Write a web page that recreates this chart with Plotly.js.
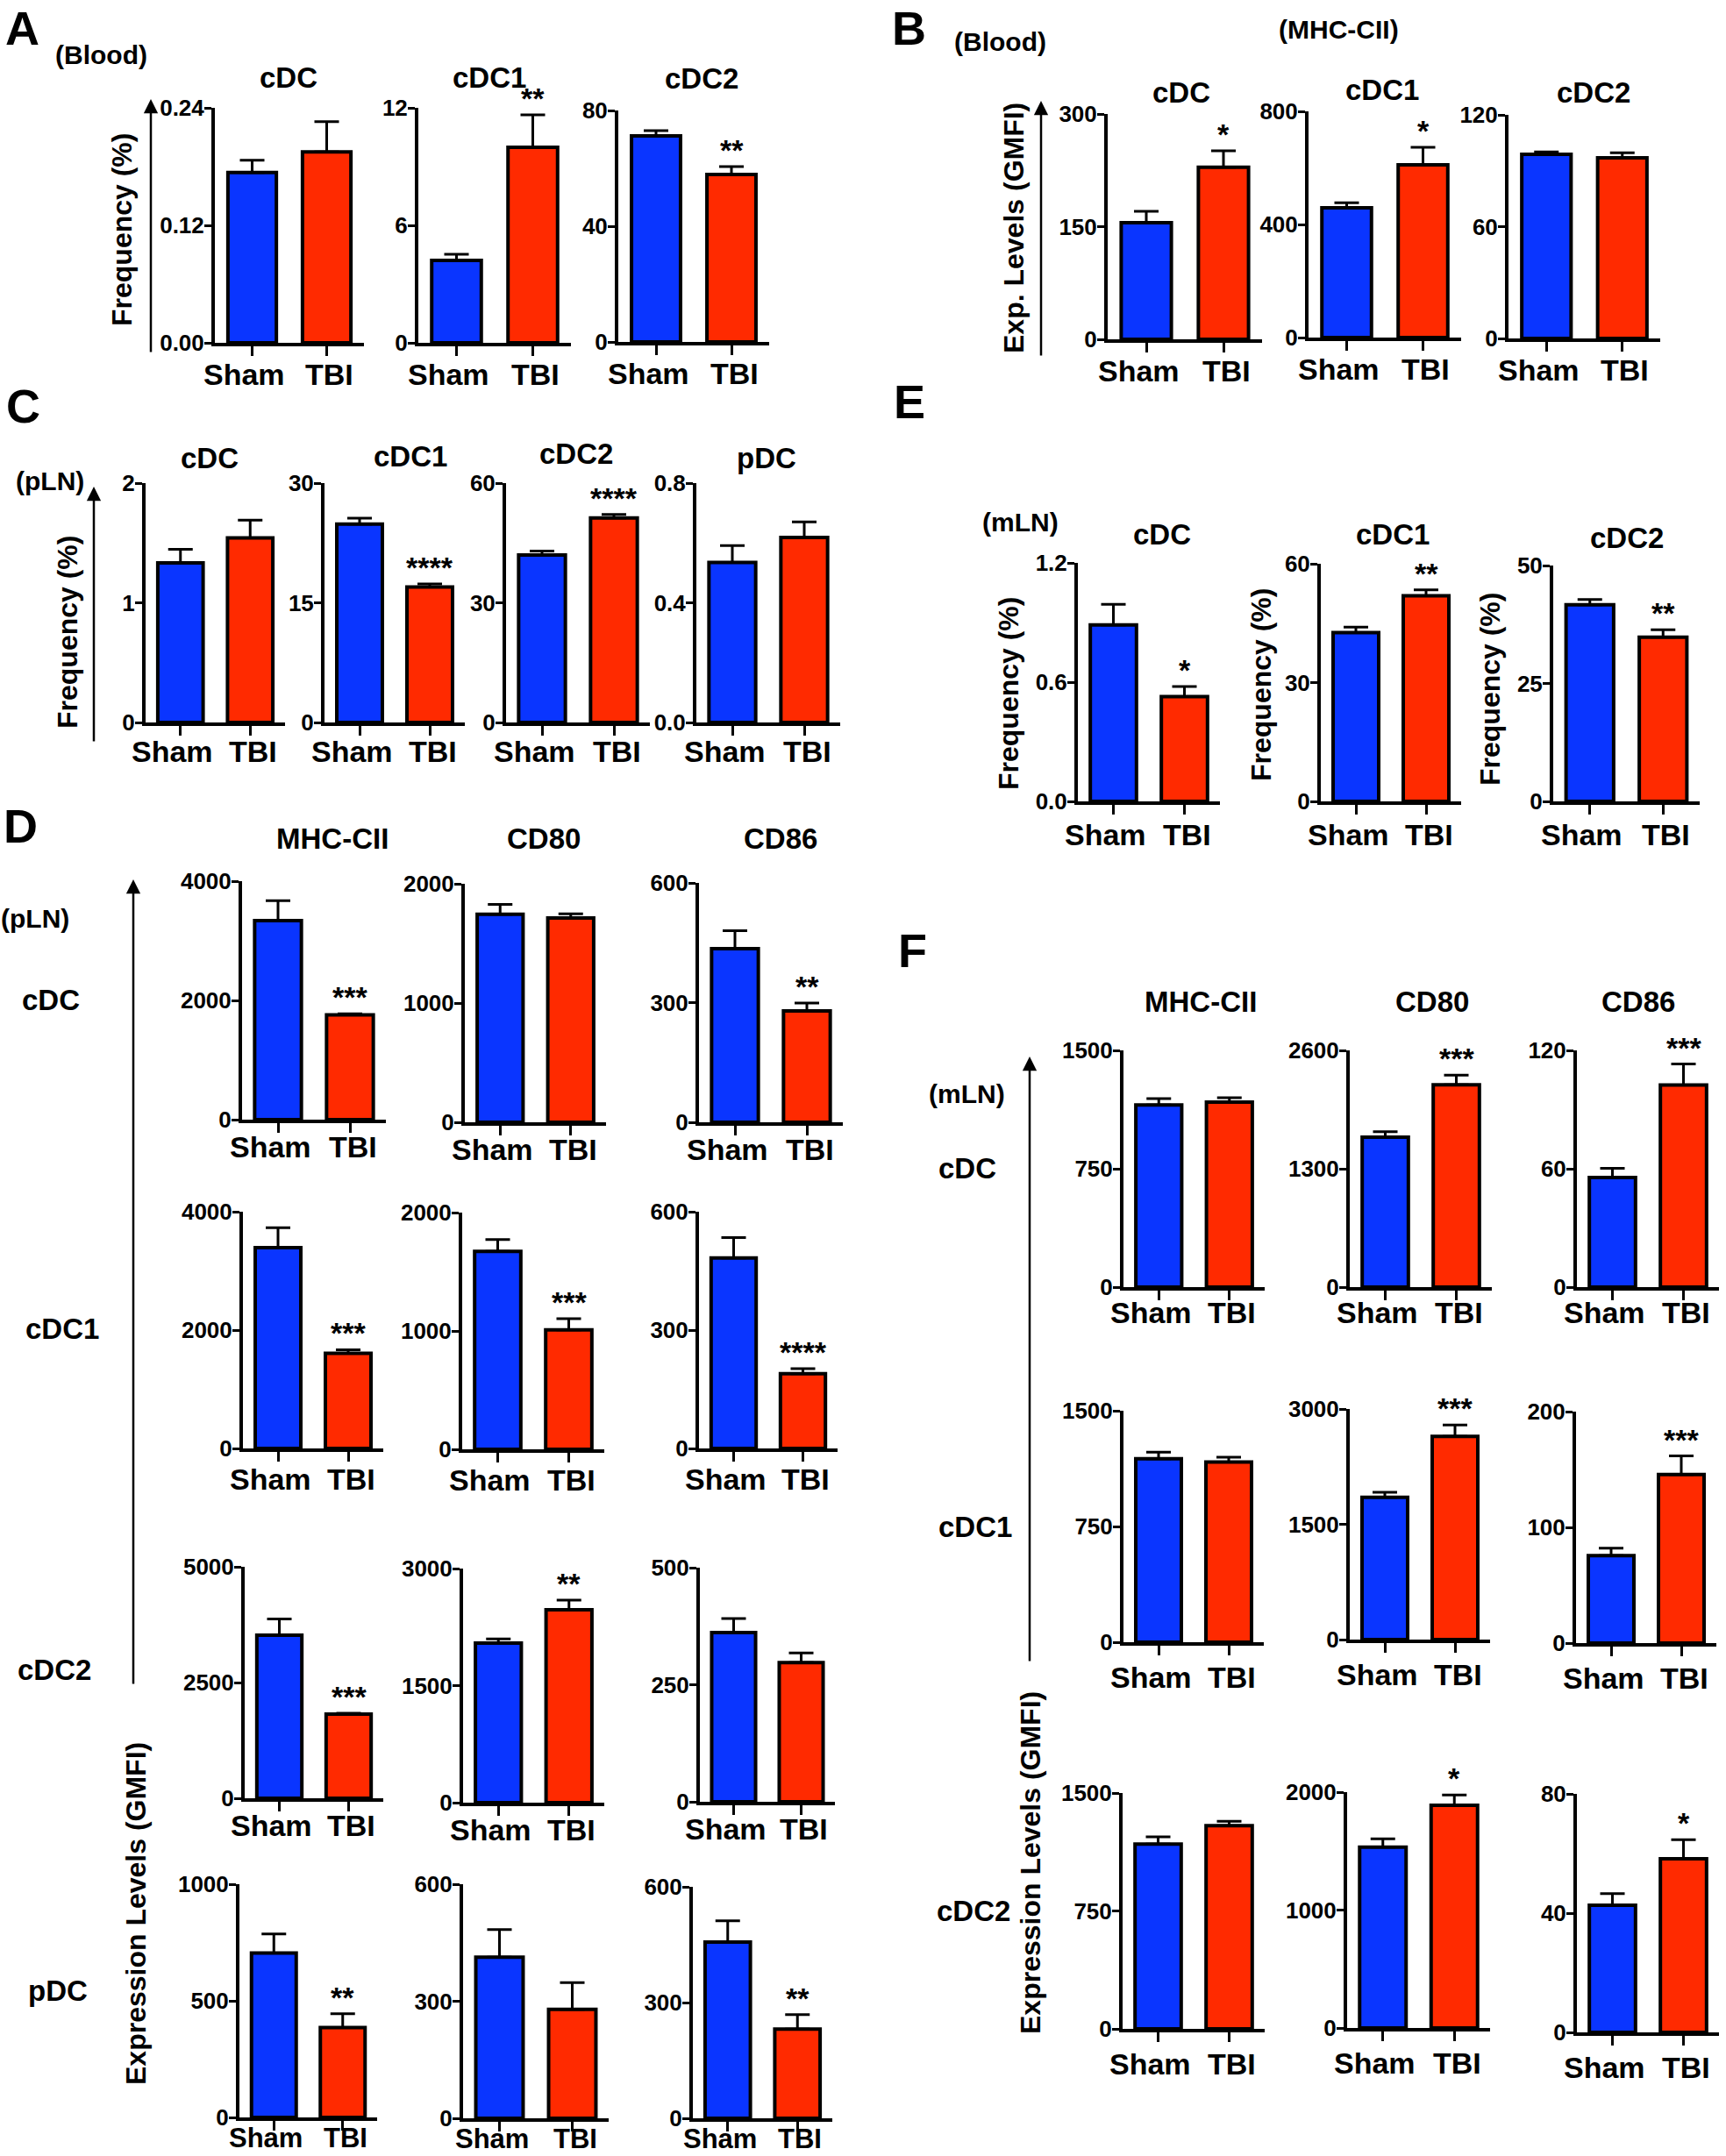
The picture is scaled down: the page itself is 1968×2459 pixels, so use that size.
<!DOCTYPE html>
<html><head><meta charset="utf-8">
<script src="https://cdn.plot.ly/plotly-3.0.1.min.js"></script>
<style>html,body{margin:0;padding:0;background:#fff}</style>
</head><body><div id="chart" style="width:1968px;height:2459px"></div>
<script>
// ---------------- DATA ----------------
const groups = ["Sham", "TBI"];

// Panel A – Blood, frequency (%)
const A_cells = ["cDC", "cDC1", "cDC2"];
const A_mean = [[0.174, 0.195], [4.21, 9.98], [71.2, 57.9]];
const A_sem = [[0.0125, 0.031], [0.31, 1.66], [1.8, 2.7]];
const A_ticks = [["0.00", "0.12", "0.24"], ["0", "6", "12"], ["0", "40", "80"]];
const A_stars = ["", "**", "**"];

// Panel B – Blood, MHC-CII expression (GMFI)
const B_cells = ["cDC", "cDC1", "cDC2"];
const B_mean = [[155.3, 229], [459, 611], [98.8, 96.9]];
const B_sem = [[15, 22], [18, 62], [1.3, 2.8]];
const B_ticks = [["0", "150", "300"], ["0", "400", "800"], ["0", "60", "120"]];
const B_stars = ["*", "*", ""];

// Panel C – pLN, frequency (%)
const C_cells = ["cDC", "cDC1", "cDC2", "pDC"];
const C_mean = [[1.333, 1.542], [24.87, 16.98], [42.0, 51.26], [0.535, 0.618]];
const C_sem = [[0.113, 0.148], [0.73, 0.37], [0.95, 0.88], [0.056, 0.052]];
const C_ticks = [["0", "1", "2"], ["0", "15", "30"], ["0", "30", "60"], ["0.0", "0.4", "0.8"]];
const C_stars = ["", "****", "****", ""];

// Panel E – mLN, frequency (%)
const E_cells = ["cDC", "cDC1", "cDC2"];
const E_mean = [[0.888, 0.527], [42.6, 51.9], [41.7, 34.8]];
const E_sem = [[0.104, 0.051], [1.4, 1.5], [1.1, 1.6]];
const E_ticks = [["0.0", "0.6", "1.2"], ["0", "30", "60"], ["0", "25", "50"]];
const E_stars = ["*", "**", "**"];

// Panel D – pLN expression levels (GMFI); rows = cell types, cols = markers
const D_markers = ["MHC-CII", "CD80", "CD86"];
const D_rows = ["cDC", "cDC1", "cDC2", "pDC"];
const D_mean = [
  [[3337, 1757], [1745, 1714], [435, 279]],
  [[3391, 1609], [1673, 1010], [482.7, 189.4]],
  [[3525, 1816], [2045, 2472], [361.6, 297.4]],
  [[705, 385], [413, 279], [457, 231]]
];
const D_sem = [
  [[334, 20], [83, 34], [45, 20]],
  [[337, 59], [99, 94], [52, 13]],
  [[348, 19], [52, 124], [30, 20.6]],
  [[82, 60], [70.6, 69], [55, 38]]
];
const D_ticks = [
  [["0", "2000", "4000"], ["0", "1000", "2000"], ["0", "300", "600"]],
  [["0", "2000", "4000"], ["0", "1000", "2000"], ["0", "300", "600"]],
  [["0", "2500", "5000"], ["0", "1500", "3000"], ["0", "250", "500"]],
  [["0", "500", "1000"], ["0", "300", "600"], ["0", "300", "600"]]
];
const D_stars = [["***", "", "**"], ["***", "***", "****"], ["***", "**", ""], ["**", "", "**"]];

// Panel F – mLN expression levels (GMFI)
const F_markers = ["MHC-CII", "CD80", "CD86"];
const F_rows = ["cDC", "cDC1", "cDC2"];
const F_mean = [
  [[1154, 1172], [1647, 2221], [55.6, 102.4]],
  [[1189, 1167], [1852, 2643], [75.5, 145.7]],
  [[1175, 1292], [1534, 1888], [42.65, 58.2]]
];
const F_sem = [
  [[40, 28], [61, 106], [4.6, 10.7]],
  [[42, 32], [65, 148], [6.5, 16]],
  [[46, 28], [70, 87], [3.9, 6.4]]
];
const F_ticks = [
  [["0", "750", "1500"], ["0", "1300", "2600"], ["0", "60", "120"]],
  [["0", "750", "1500"], ["0", "1500", "3000"], ["0", "100", "200"]],
  [["0", "750", "1500"], ["0", "1000", "2000"], ["0", "40", "80"]]
];
const F_stars = [["", "***", "***"], ["", "***", "***"], ["", "*", "*"]];

// ---------------- LAYOUT GEOMETRY (pixels) ----------------
const W = 1968, H = 2459;
const FONT = "Liberation Sans, Arial, Helvetica, sans-serif";
const BLUE = "#0a35ff", RED = "#ff2a00";
const LABEL_SHIFT = [-9, 3];

const A_box = [[245, 415, 123, 391], [477, 651, 123, 391], [705, 877, 126, 390]];
const A_tpos = [[329, 88], [558, 88], [800, 90]];
const B_box = [[1263, 1439, 130, 387], [1492, 1666, 127, 385], [1720, 1893, 131, 386]];
const B_tpos = [[1347, 105], [1576, 102], [1817, 105]];
const C_box = [[166, 325, 551, 824], [370, 530, 551, 824], [577, 741, 551, 824], [794, 958, 551, 824]];
const C_tpos = [[239, 522], [468, 520], [657, 517], [874, 522]];
const E_box = [[1229, 1391, 642, 914], [1506, 1666, 643, 914], [1771, 1938, 645, 914]];
const E_tpos = [[1325, 610], [1588, 610], [1855, 613]];
const D_box = [
  [[276, 440, 1005, 1277], [530, 691, 1008, 1280], [797, 961, 1007, 1280]],
  [[277, 437, 1382, 1652], [527, 689, 1383, 1653], [797, 955, 1382, 1652]],
  [[279, 437, 1787, 2051], [528, 689, 1789, 2056], [798, 952, 1788, 2055]],
  [[273, 430, 2149, 2415], [528, 694, 2149, 2416], [790, 949, 2152, 2416]]
];
const D_gap = [31, 35, 31, 23];
const D_lsize = [34, 34, 34, 31];
const D_ctpos = [[379, 957], [620, 957], [890, 957]];
const D_rpos = [[58, 1140], [71, 1515], [62, 1904], [66, 2270]];
const F_box = [
  [[1281, 1442, 1198, 1468], [1539, 1701, 1198, 1468], [1798, 1960, 1198, 1468]],
  [[1281, 1441, 1609, 1873], [1539, 1699, 1607, 1870], [1797, 1957, 1610, 1874]],
  [[1280, 1442, 2045, 2314], [1536, 1699, 2044, 2313], [1798, 1960, 2046, 2318]]
];
const F_gap = [29, 40, 40];
const F_ctpos = [[1369, 1143], [1633, 1143], [1868, 1143]];
const F_rpos = [[1103, 1332], [1112, 1741], [1110, 2179]];

// ---------------- BUILD ----------------
const layout = {
  width: W, height: H, autosize: false,
  margin: {l: 0, r: 0, t: 0, b: 0},
  paper_bgcolor: "#fff", plot_bgcolor: "rgba(0,0,0,0)",
  showlegend: false, annotations: [],
  font: {family: FONT, color: "#000"}
};
const data = [];
let n = 0;

function txt(text, x, y, size, angle, anchorTop) {
  layout.annotations.push({
    xref: "paper", yref: "paper", x: x / W, y: 1 - y / H,
    text: "<b>" + text + "</b>", showarrow: false,
    xanchor: "center", yanchor: anchorTop ? "top" : "middle",
    textangle: angle || 0,
    font: {family: FONT, size: size, color: "#000"}
  });
}
function arrow(x, yTip, yTail) {
  layout.annotations.push({
    xref: "paper", yref: "paper", x: x / W, y: 1 - yTip / H,
    axref: "pixel", ayref: "pixel", ax: 0, ay: yTail - yTip,
    text: "", showarrow: true, arrowhead: 2, arrowsize: 1.3,
    arrowwidth: 2.5, arrowcolor: "#000", standoff: 0, startstandoff: 0
  });
}
function sub(box, mean, sem, ticks, star, gap, lsize) {
  n++;
  const s = n === 1 ? "" : String(n);
  const vals = ticks.map(Number);
  layout["xaxis" + s] = {
    domain: [box[0] / W, box[1] / W], anchor: "y" + s,
    type: "category", range: [-0.5, 1.5],
    showline: true, linecolor: "#000", linewidth: 4,
    ticks: "outside", ticklen: 11, tickwidth: 3, tickcolor: "#000",
    showgrid: false, zeroline: false, showticklabels: false,
    tickmode: "array", tickvals: groups, fixedrange: true
  };
  layout["yaxis" + s] = {
    domain: [1 - box[3] / H, 1 - box[2] / H], anchor: "x" + s,
    range: [0, vals[vals.length - 1]],
    showline: true, linecolor: "#000", linewidth: 4,
    ticks: "outside", ticklen: 8, tickwidth: 3, tickcolor: "#000",
    showgrid: false, zeroline: false,
    tickmode: "array", tickvals: vals, ticktext: ticks.map(t => "<b>" + t + "</b>"),
    ticklabelstandoff: -5,
    tickfont: {family: FONT, size: 26, color: "#000"}, fixedrange: true
  };
  data.push({
    type: "bar", x: groups, y: mean, xaxis: "x" + s, yaxis: "y" + s,
    width: 0.65, hoverinfo: "skip",
    marker: {color: [BLUE, RED], line: {color: "#000", width: 4}},
    error_y: {type: "data", symmetric: false, array: sem, arrayminus: [0, 0],
              color: "#000", thickness: 3, width: 14}
  });
  // group labels under the x axis
  groups.forEach((g, k) => {
    layout.annotations.push({
      xref: "x" + s, yref: "paper", x: k, y: 1 - (box[3] + gap) / H,
      xshift: LABEL_SHIFT[k],
      text: "<b>" + g + "</b>", showarrow: false,
      xanchor: "center", yanchor: "middle",
      font: {family: FONT, size: lsize || 34, color: "#000"}
    });
  });
  if (star) {
    layout.annotations.push({
      xref: "x" + s, yref: "y" + s, x: 1, y: mean[1] + sem[1],
      text: "<b>" + star + "</b>", showarrow: false,
      xanchor: "center", yanchor: "bottom", yshift: -2,
      font: {family: FONT, size: 34, color: "#000"}
    });
  }
}

// Panel A
A_cells.forEach((c, i) => { sub(A_box[i], A_mean[i], A_sem[i], A_ticks[i], A_stars[i], 36); txt(c, A_tpos[i][0], A_tpos[i][1], 33); });
txt("A", 25, 0, 54, 0, true); txt("(Blood)", 115, 63, 30);
txt("Frequency (%)", 139, 262, 32, -90); arrow(172, 113, 403);

// Panel B
B_cells.forEach((c, i) => { sub(B_box[i], B_mean[i], B_sem[i], B_ticks[i], B_stars[i], 36); txt(c, B_tpos[i][0], B_tpos[i][1], 33); });
txt("B", 1036, 0, 54, 0, true); txt("(Blood)", 1140, 47, 30); txt("(MHC-CII)", 1526, 33, 30);
txt("Exp. Levels (GMFI)", 1156, 260, 32, -90); arrow(1187, 115, 407);

// Panel C
C_cells.forEach((c, i) => { sub(C_box[i], C_mean[i], C_sem[i], C_ticks[i], C_stars[i], 33); txt(c, C_tpos[i][0], C_tpos[i][1], 33); });
txt("C", 26, 463, 54); txt("(pLN)", 57, 548, 30);
txt("Frequency (%)", 77, 721, 32, -90); arrow(107, 555, 847);

// Panel E
const E_ytpos = [[1150, 791], [1438, 781], [1699, 786]];
E_cells.forEach((c, i) => {
  sub(E_box[i], E_mean[i], E_sem[i], E_ticks[i], E_stars[i], 38);
  txt(c, E_tpos[i][0], E_tpos[i][1], 33);
  txt("Frequency (%)", E_ytpos[i][0], E_ytpos[i][1], 32, -90);
});
txt("E", 1037, 458, 54); txt("(mLN)", 1163, 596, 30);

// Panel D
D_rows.forEach((r, i) => {
  D_markers.forEach((m, j) => sub(D_box[i][j], D_mean[i][j], D_sem[i][j], D_ticks[i][j], D_stars[i][j], D_gap[i], D_lsize[i]));
  txt(r, D_rpos[i][0], D_rpos[i][1], 33);
});
D_markers.forEach((m, j) => txt(m, D_ctpos[j][0], D_ctpos[j][1], 33));
txt("D", 23, 942, 54); txt("(pLN)", 40, 1047, 30);
txt("Expression Levels (GMFI)", 155, 2183, 32, -90); arrow(152, 1003, 1922);

// Panel F
F_rows.forEach((r, i) => {
  F_markers.forEach((m, j) => sub(F_box[i][j], F_mean[i][j], F_sem[i][j], F_ticks[i][j], F_stars[i][j], F_gap[i]));
  txt(r, F_rpos[i][0], F_rpos[i][1], 33);
});
F_markers.forEach((m, j) => txt(m, F_ctpos[j][0], F_ctpos[j][1], 33));
txt("F", 1040, 1084, 54); txt("(mLN)", 1102, 1247, 30);
txt("Expression Levels (GMFI)", 1175, 2125, 32, -90); arrow(1174, 1205, 1896);

Plotly.newPlot("chart", data, layout, {displayModeBar: false, staticPlot: true});
</script>
</body></html>
